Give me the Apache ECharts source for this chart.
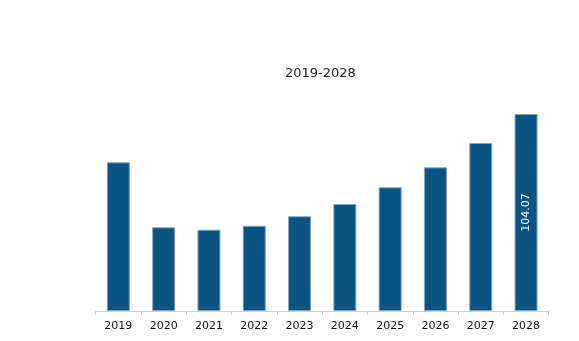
<!DOCTYPE html>
<html>
<head>
<meta charset="utf-8">
<script src="https://cdn.jsdelivr.net/npm/echarts@6/dist/echarts.min.js"></script>
<style>html,body{margin:0;padding:0;background:#fff}#c{width:579px;height:341px}</style>
</head>
<body>
<div id="c"></div>
<script>
const categories = ['2019','2020','2021','2022','2023','2024','2025','2026','2027','2028'];
const values = [78.55, 44.22, 42.95, 45.06, 50.03, 56.53, 65.35, 75.91, 88.75, 104.07];
const titleText = '2019-2028';
const labelIndex = 9;

const chart = echarts.init(document.getElementById('c'), null, {renderer: 'canvas'});
chart.setOption({
  animation: false,
  backgroundColor: '#ffffff',
  title: {
    text: titleText,
    left: 285,
    top: 67,
    padding: 0,
    textStyle: {fontFamily: 'DejaVu Sans', fontSize: 13, fontWeight: 'normal', color: '#222'}
  },
  grid: {left: 95.7, right: 30.3, top: 114, bottom: 30},
  xAxis: {
    type: 'category',
    data: categories,
    axisLine: {lineStyle: {color: '#d0d0d0', width: 1}},
    axisTick: {show: true, length: 4, lineStyle: {color: '#d0d0d0'}},
    axisLabel: {fontFamily: 'DejaVu Sans', fontSize: 11, color: '#111', margin: 10}
  },
  yAxis: {
    type: 'value', min: 0, max: 104.07, show: false,
    splitLine: {show: false}
  },
  series: [{
    type: 'bar',
    data: values.map((v, i) => ({
      value: v,
      label: {
        show: i === labelIndex,
        position: 'inside',
        rotate: 90,
        color: '#fff',
        fontFamily: 'DejaVu Sans',
        fontSize: 11,
        formatter: p => p.value.toFixed(2)
      }
    })),
    barWidth: 23,
    itemStyle: {color: '#0b5383', borderColor: '#7fa7c4', borderWidth: 1}
  }]
});
</script>
</body>
</html>
